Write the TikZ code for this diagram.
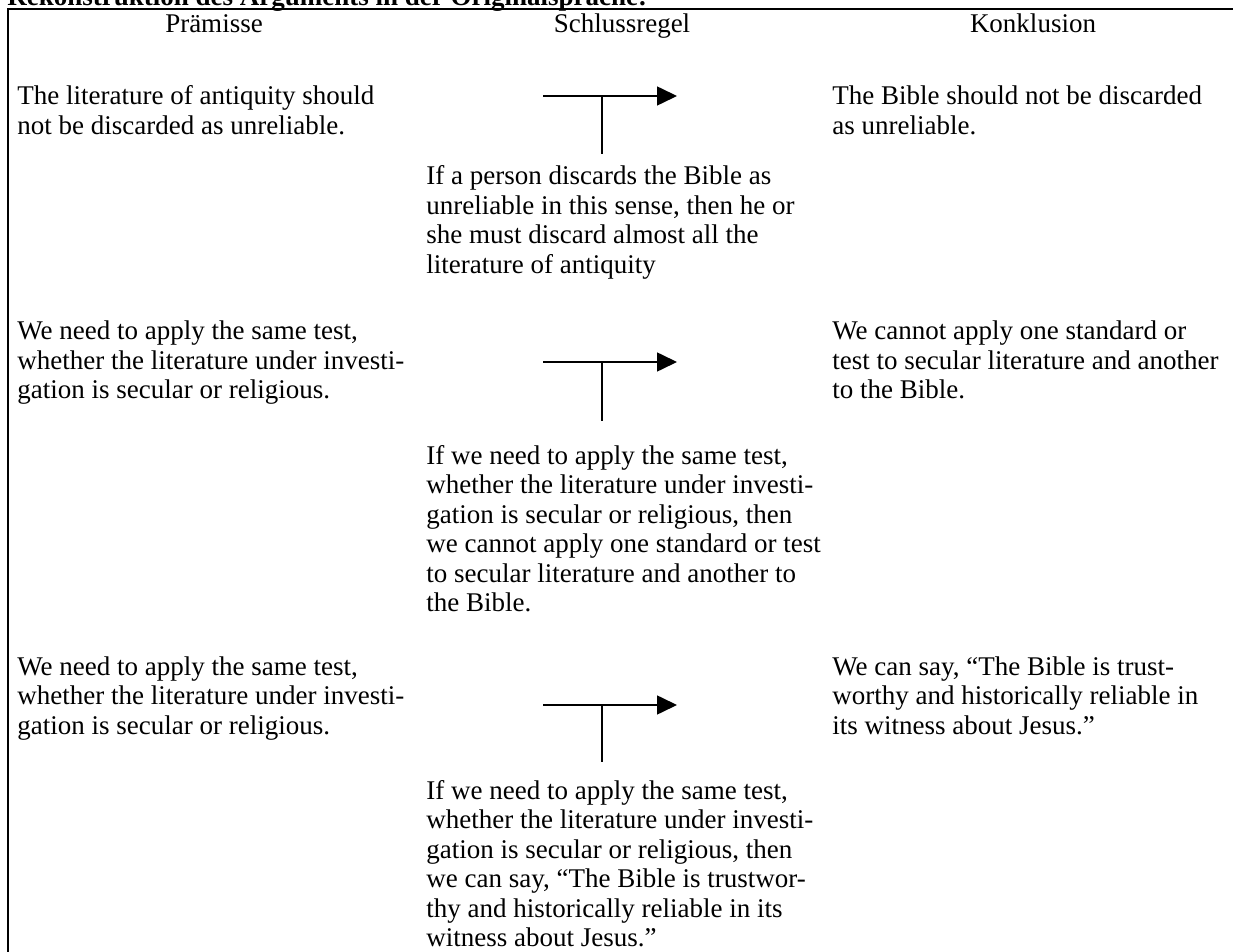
\documentclass[tikz,border=0pt]{standalone}
\usepackage{fontspec}
\setmainfont{Liberation Serif}
\usetikzlibrary{arrows.meta}
\begin{document}
\begin{tikzpicture}[x=0.5pt,y=-0.5pt,
  % anchor is the baseline of the LAST line of a multi-line node
  txt/.style={anchor=base west, align=left, inner sep=0pt, font=\fontsize{13.5}{14.75}\selectfont},
  hdr/.style={anchor=base, inner sep=0pt, font=\fontsize{13.5}{14.75}\selectfont},
  ttl/.style={anchor=base west, inner sep=0pt, font=\fontsize{13.5}{14.75}\selectfont\bfseries},
  frame/.style={line width=1.3pt},
  arr/.style={line width=0.8pt, -{Triangle[length=10pt,width=9.5pt]}},
  stem/.style={line width=0.8pt}]
\useasboundingbox (0,0) rectangle (1233,952);
\clip (0,0) rectangle (1233,952);

% title and frame
\node[ttl] (title) at (7,6) {Rekonstruktion des Arguments in der Originalsprache:};
\coordinate (tr) at (1245,9);
\coordinate (tl) at (8,9);
\coordinate (bl) at (8,965);
\draw[frame] (tr) -- (tl) -- (bl);

% headers
\node[hdr] (h1) at (214,33) {Prämisse};
\node[hdr] (h2) at (622,33) {Schlussregel};
\node[hdr] (h3) at (1033,33) {Konklusion};

% row 1
\node[txt] (p1) at (17,134.5) {The literature of antiquity should\\not be discarded as unreliable.};
\node[txt] (r1) at (426,273.5) {If a person discards the Bible as\\unreliable in this sense, then he or\\she must discard almost all the\\literature of antiquity};
\node[txt] (k1) at (832,134.5) {The Bible should not be discarded\\as unreliable.};

% row 2
\node[txt] (p2) at (17,399) {We need to apply the same test,\\whether the literature under investi-\\gation is secular or religious.};
\node[txt] (r2) at (426,611.5) {If we need to apply the same test,\\whether the literature under investi-\\gation is secular or religious, then\\we cannot apply one standard or test\\to secular literature and another to\\the Bible.};
\node[txt] (k2) at (832,399) {We cannot apply one standard or\\test to secular literature and another\\to the Bible.};

% row 3
\node[txt] (p3) at (17,734) {We need to apply the same test,\\whether the literature under investi-\\gation is secular or religious.};
\node[txt] (r3) at (426,946.5) {If we need to apply the same test,\\whether the literature under investi-\\gation is secular or religious, then\\we can say, “The Bible is trustwor-\\thy and historically reliable in its\\witness about Jesus.”};
\node[txt] (k3) at (832,734) {We can say, “The Bible is trust-\\worthy and historically reliable in\\its witness about Jesus.”};

% inference arrows
\coordinate (a1s) at (543,96);  \coordinate (a1e) at (677,96);
\coordinate (a1j) at (602,96);  \coordinate (a1b) at (602,154);
\coordinate (a2s) at (543,362); \coordinate (a2e) at (677,362);
\coordinate (a2j) at (602,362); \coordinate (a2b) at (602,421);
\coordinate (a3s) at (543,705); \coordinate (a3e) at (677,705);
\coordinate (a3j) at (602,705); \coordinate (a3b) at (602,762);
\draw[arr] (a1s) -- (a1e);
\draw[stem] (a1j) -- (a1b);
\draw[arr] (a2s) -- (a2e);
\draw[stem] (a2j) -- (a2b);
\draw[arr] (a3s) -- (a3e);
\draw[stem] (a3j) -- (a3b);
\end{tikzpicture}
\end{document}
